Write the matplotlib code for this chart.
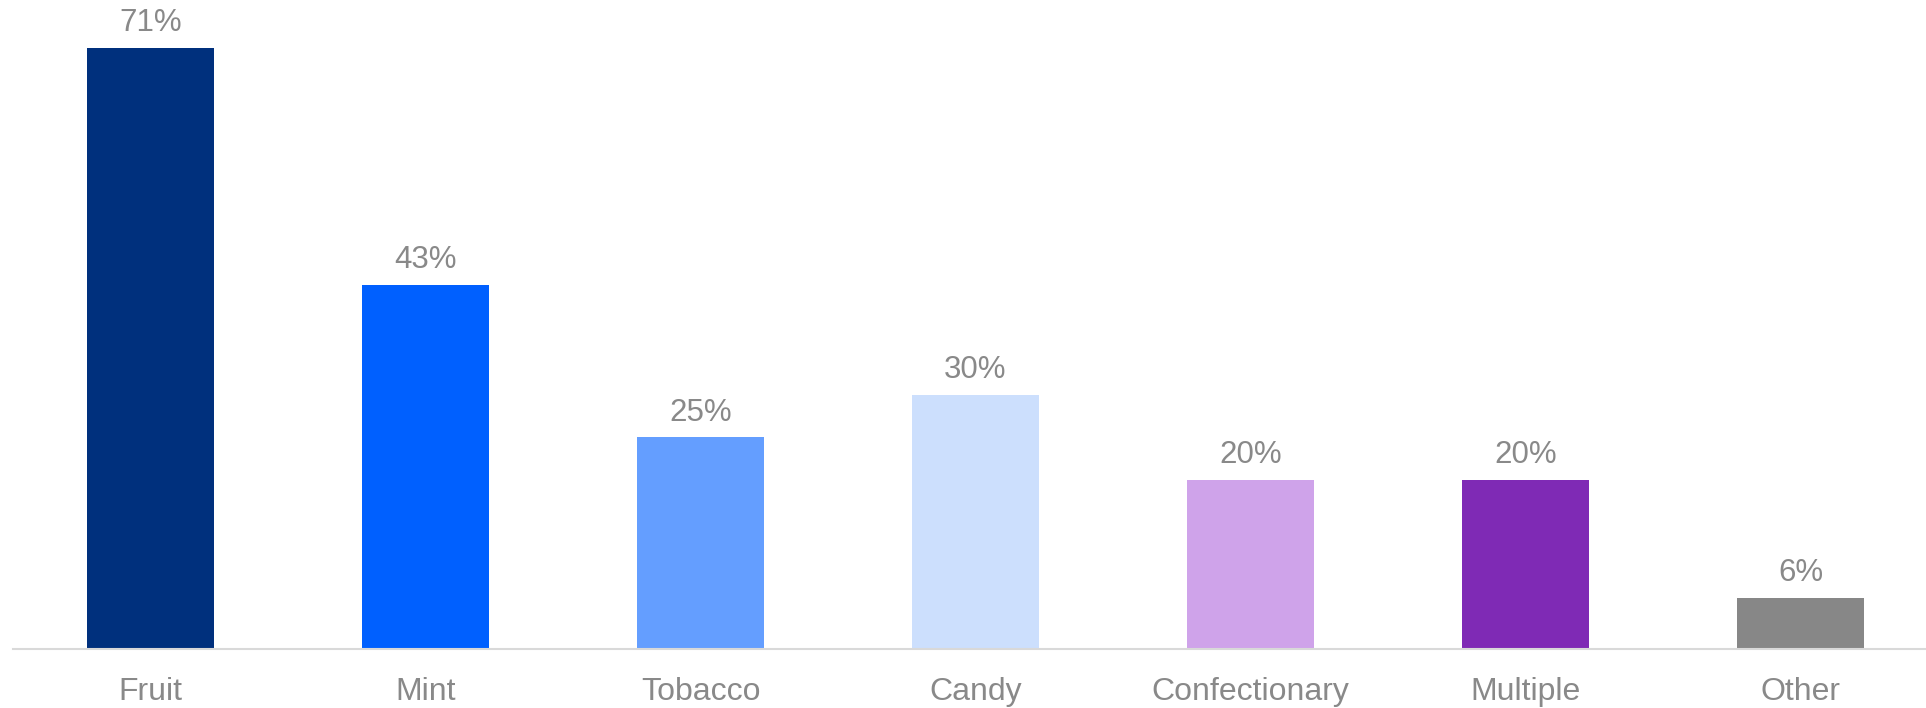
import matplotlib.pyplot as plt

# data
categories = ['Fruit', 'Mint', 'Tobacco', 'Candy', 'Confectionary', 'Multiple', 'Other']
values = [71, 43, 25, 30, 20, 20, 6]
colors = ['#00307D', '#0060FF', '#649EFF', '#CCDFFD', '#CFA3EA', '#7F2AB5', '#878787']

plt.rcParams['font.family'] = ['Liberation Sans', 'DejaVu Sans']
text_color = '#898989'

fig = plt.figure(figsize=(19.26, 7.08), dpi=100)
# axes spans from the baseline up to the top of the figure
ax = fig.add_axes([13 / 1926, 1 - 649 / 708, (1938 - 13) / 1926, 649 / 708])

x = range(len(categories))
bars = ax.bar(x, values, width=0.463, color=colors)

for b, v in zip(bars, values):
    ax.annotate('%d%%' % v, (b.get_x() + b.get_width() / 2, v),
                xytext=(0, 7), textcoords='offset points',
                ha='center', va='bottom', fontsize=22.5, color=text_color)

ax.set_xlim(-0.5, 6.5)
ax.set_ylim(0, 649 / 8.465)
ax.set_xticks(list(x))
ax.set_xticklabels(categories, fontsize=23, color=text_color)
ax.tick_params(axis='x', length=0, pad=20)
ax.set_yticks([])

for s in ['top', 'right', 'left']:
    ax.spines[s].set_visible(False)
ax.spines['bottom'].set_color('#D9D9D9')
ax.spines['bottom'].set_linewidth(1.5)

fig.savefig('out.png', dpi=100)
